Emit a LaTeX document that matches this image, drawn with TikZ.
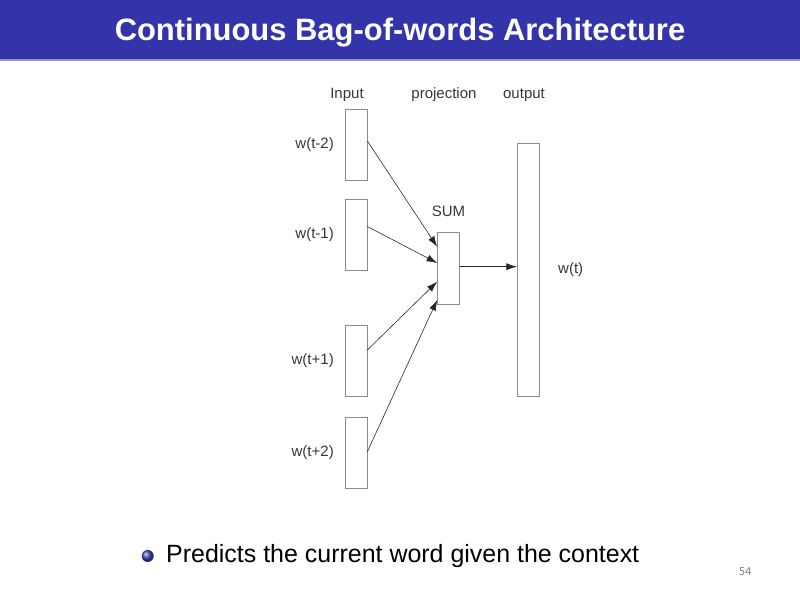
\documentclass[tikz,border=0pt]{standalone}
\usepackage{fontspec}
\setmainfont{Liberation Sans}
\newfontfamily\pagefont{Carlito}
\usetikzlibrary{arrows.meta, positioning, calc}

\definecolor{titleblue}{RGB}{51,51,170}
\definecolor{titleshade}{RGB}{150,150,205}
\definecolor{boxgray}{RGB}{140,140,140}
\definecolor{labelgray}{RGB}{55,55,55}
\definecolor{bulletblue}{RGB}{70,70,190}

\begin{document}
\begin{tikzpicture}[
    x=0.03cm, y=-0.03cm,
    word/.style={rectangle, draw=boxgray, line width=0.6pt, inner sep=0pt, minimum width=0.66cm, minimum height=2.13cm},
    label/.style={inner sep=0pt, text=labelgray, font=\fontsize{12.8}{14}\selectfont},
    arrow/.style={-{Latex[length=9pt, width=6pt]}, line width=0.5pt, color=black!85},
]
\useasboundingbox (0,0) rectangle (800,600);

% title bar
\fill[titleblue] (0,0) rectangle (800,59);
\fill[titleshade] (0,59) rectangle (800,61);
\node[text=white, font=\fontsize{26.4}{30}\selectfont\bfseries] (title) at (400,33) {Continuous Bag-of-words Architecture};

% column headings
\node[label] (hin) at (347,95) {Input};
\node[label] (hproj) at (444,95) {projection};
\node[label] (hout) at (524,95) {output};

% context words
\node[word] (in1) at (356,145) {};
\node[word] (in2) at (356,234.5) {};
\node[word] (in3) at (356,360.5) {};
\node[word] (in4) at (356,453) {};
\node[label, left=0.32cm of in1] (lin1) {w(t-2)};
\node[label, left=0.32cm of in2] (lin2) {w(t-1)};
\node[label, left=0.32cm of in3] (lin3) {w(t+1)};
\node[label, left=0.32cm of in4] (lin4) {w(t+2)};

% projection and output
\node[word, minimum height=2.16cm] (sum) at (448.5,268) {};
\node[label, above=0.45cm of sum] (lsum) {SUM};
\node[word, minimum height=7.58cm] (out) at (528.3,269.7) {};
\node[label, right=0.55cm of out] (lout) {w(t)};

\draw[arrow] ($(in1.east)+(0,-4)$) -- ($(sum.west)+(0,-21.3)$);
\draw[arrow] ($(in2.east)+(0,-8)$) -- ($(sum.west)+(0,-5)$);
\draw[arrow] ($(in3.east)+(0,-10.5)$) -- ($(sum.west)+(0,13.7)$);
\draw[arrow] ($(in4.east)+(0,-1.3)$) -- ($(sum.west)+(0,32)$);
\coordinate (sumout) at ($(sum.east)+(0,-1.3)$);
\draw[arrow] (sumout) -- (sumout -| out.west);

% bullet line
\shade[ball color=bulletblue] (147.7,556) circle (6);
\node[anchor=west, inner sep=0pt, font=\fontsize{21.3}{24}\selectfont] (bullet) at (166,556) {Predicts the current word given the context};

% page number
\node[text=gray, font=\pagefont\fontsize{10.5}{12}\selectfont] (page) at (745,572) {54};
\end{tikzpicture}
\end{document}
